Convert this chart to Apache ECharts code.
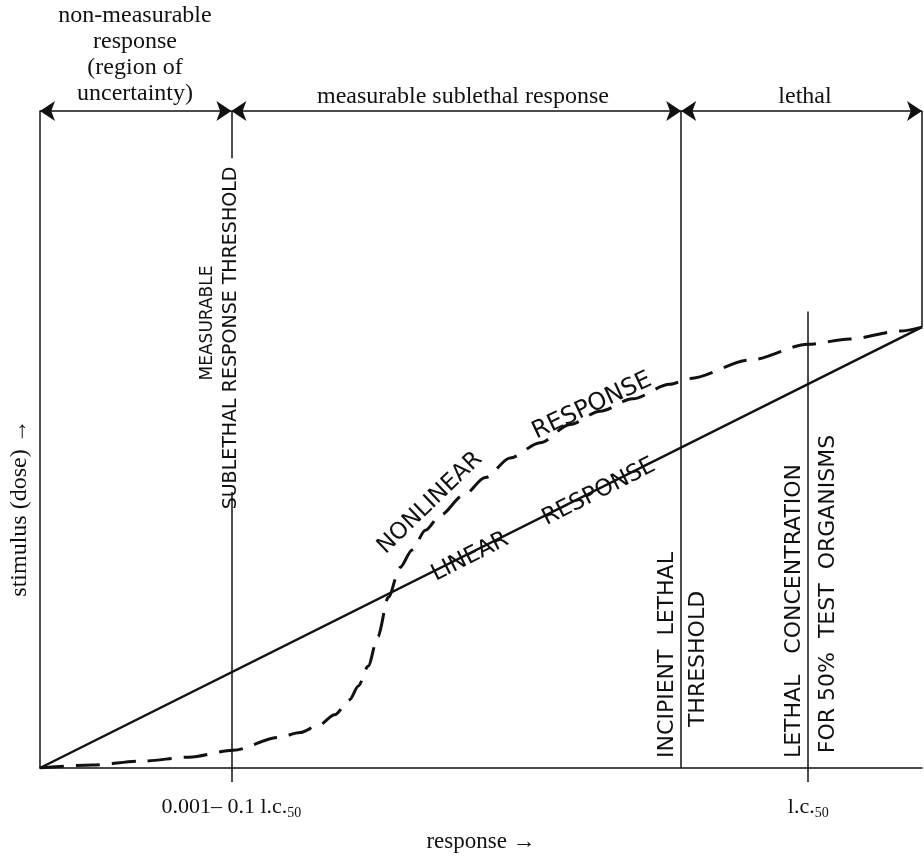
<!DOCTYPE html>
<html>
<head>
<meta charset="utf-8">
<script src="https://cdn.jsdelivr.net/npm/echarts@6/dist/echarts.min.js"></script>
<style>
html, body { margin: 0; padding: 0; background: #fff; }
#chart { width: 924px; height: 858px; }
</style>
</head>
<body>
<div id="chart"></div>
<script>
// x = response (0 at origin, 100 at right edge), y = stimulus (0 at axis, 100 at top arrow line)
const linearResponse = [[0, 0], [100, 67.1]];
const nonlinearResponse = [
  [0, 0], [5.9, 0.45], [11.6, 1.05], [16.9, 1.65], [21.9, 2.7], [27.0, 4.65],
  [29.5, 5.4], [31.7, 6.6], [33.4, 8.1], [35.1, 10.4], [36.1, 12.5], [37.2, 15.5],
  [38.3, 20.0], [39.5, 26.0], [40.8, 30.5], [42.2, 33.2], [43.7, 36.2], [45.4, 38.5],
  [48.0, 41.5], [50.5, 44.2], [53.3, 47.2], [56.7, 49.5], [60.1, 52.3], [63.5, 54.3],
  [67.2, 56.2], [71.4, 58.4], [73.7, 59.3], [80.5, 62.1], [87.1, 64.5], [91.8, 65.3],
  [97.5, 66.5], [100, 67.1]
];
const thresholdX = 21.7;  // measurable sublethal response threshold
const incipientX = 72.7;  // incipient lethal threshold
const lc50X = 87.1;       // l.c.50
const tickValues = [thresholdX, lc50X];
const tickLabels = ['0.001– 0.1 l.c.', 'l.c.'];
const regionBounds = [[0, thresholdX], [thresholdX, incipientX], [incipientX, 100]];
const regionTitles = ['non-measurable\nresponse\n(region of\nuncertainty)', 'measurable sublethal response', 'lethal'];
const markerLines = [
  [[thresholdX, 0], [thresholdX, 42.0]],
  [[thresholdX, 92.8], [thresholdX, 100]],
  [[incipientX, 0], [incipientX, 100]],
  [[lc50X, 0], [lc50X, 69.5]],
  [[100, 67.1], [100, 100]]
];

const SERIF = '"Liberation Serif", "DejaVu Serif", serif';
const SANS = '"DejaVu Sans", sans-serif';
const INK = '#111';

const chart = echarts.init(document.getElementById('chart'));

chart.setOption({
  animation: false,
  backgroundColor: '#fff',
  grid: { left: 40, right: 2, top: 111, bottom: 64 },
  xAxis: {
    type: 'value',
    min: 0,
    max: 100,
    axisLine: { show: true, lineStyle: { color: INK, width: 1.5 } },
    axisTick: { show: true, customValues: tickValues, length: 14, lineStyle: { color: INK, width: 1.5 } },
    axisLabel: {
      customValues: tickValues,
      margin: 27,
      color: INK,
      formatter: (v) => '{t|' + tickLabels[tickValues.indexOf(v)] + '}{s|50}',
      rich: {
        t: { fontFamily: SERIF, fontSize: 22, color: INK },
        s: { fontFamily: SERIF, fontSize: 14, color: INK, padding: [11, 0, 0, 0] }
      }
    },
    splitLine: { show: false },
    name: 'response →',
    nameLocation: 'middle',
    nameGap: 62,
    nameTextStyle: { fontFamily: SERIF, fontSize: 23, color: INK }
  },
  yAxis: {
    type: 'value',
    min: 0,
    max: 100,
    axisLine: { show: true, lineStyle: { color: INK, width: 1.5 } },
    axisTick: { show: false },
    axisLabel: { show: false },
    splitLine: { show: false }
  },
  series: [
    {
      name: 'linear response',
      type: 'line',
      data: linearResponse,
      symbol: 'none',
      lineStyle: { color: INK, width: 2.5 }
    },
    {
      name: 'nonlinear response',
      type: 'line',
      data: nonlinearResponse,
      symbol: 'none',
      smooth: 0.3,
      smoothMonotone: 'x',
      lineStyle: { color: INK, width: 3, type: [24, 12] }
    },
    {
      type: 'lines',
      coordinateSystem: 'cartesian2d',
      clip: false,
      silent: true,
      symbol: 'none',
      data: markerLines.map((c) => ({ coords: c })),
      lineStyle: { color: INK, width: 1.5, opacity: 1 }
    },
    {
      type: 'lines',
      coordinateSystem: 'cartesian2d',
      clip: false,
      silent: true,
      symbol: ['arrow', 'arrow'],
      symbolSize: 15,
      data: regionBounds.map((b) => ({ coords: [[b[0], 100], [b[1], 100]] })),
      lineStyle: { color: INK, width: 1.5, opacity: 1 },
      itemStyle: { color: INK }
    }
  ]
});

function txt(text, x, y, font, rot) {
  return {
    type: 'text',
    x: x,
    y: y,
    rotation: rot || 0,
    silent: true,
    style: { text: text, font: font, fill: INK, textAlign: 'center', textVerticalAlign: 'middle', lineHeight: 26 }
  };
}

const deg = Math.PI / 180;
const headFont = '24px ' + SERIF;
const vertFont = '19px ' + SANS;
const vertFontWide = '22px ' + SANS;
const curveFont = '23px ' + SANS;

chart.setOption({
  graphic: [
    txt(regionTitles[0], 135, 55, headFont),
    txt(regionTitles[1], 463, 97, headFont),
    txt(regionTitles[2], 805, 97, headFont),
    txt('stimulus (dose) →', 20, 508, '24px ' + SERIF, 90 * deg),
    txt('MEASURABLE', 208, 323, '17px ' + SANS, 90 * deg),
    txt('SUBLETHAL RESPONSE THRESHOLD', 231, 338, vertFont, 90 * deg),
    txt('INCIPIENT  LETHAL', 667, 655, vertFontWide, 90 * deg),
    txt('THRESHOLD', 698, 659, vertFontWide, 90 * deg),
    txt('LETHAL   CONCENTRATION', 794, 611, vertFontWide, 90 * deg),
    txt('FOR 50%  TEST  ORGANISMS', 828, 594, vertFontWide, 90 * deg),
    txt('NONLINEAR', 430, 503, curveFont, 44 * deg),
    txt('RESPONSE', 592, 406, '24px ' + SANS, 25 * deg),
    txt('LINEAR', 470, 557, curveFont, 26.8 * deg),
    txt('RESPONSE', 599, 492, curveFont, 26.8 * deg)
  ]
});
</script>
</body>
</html>
